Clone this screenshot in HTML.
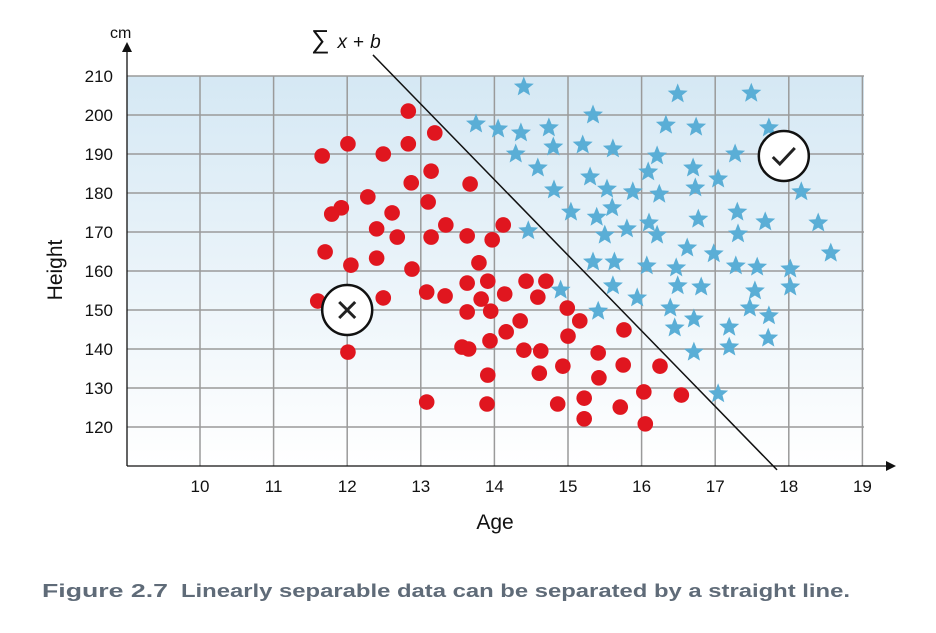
<!DOCTYPE html>
<html><head><meta charset="utf-8"><style>
html,body{margin:0;padding:0;background:#fff;}
svg text{font-family:"Liberation Sans",sans-serif;}
</style></head><body>
<svg id="chart" width="936" height="628" viewBox="0 0 936 628" xmlns="http://www.w3.org/2000/svg">
<defs>
<linearGradient id="bg" x1="0" y1="0" x2="0" y2="1">
<stop offset="0" stop-color="#d5e8f4"/><stop offset="1" stop-color="#ffffff"/>
</linearGradient>
</defs>
<rect x="127" y="76" width="737" height="390" fill="url(#bg)"/>
<g id="grid"></g>
<g id="marks"></g>
<g id="axes">
<line x1="127" y1="466" x2="127" y2="50" stroke="#111" stroke-width="1.3"/>
<polygon points="122,52 132,52 127,42" fill="#111"/>
<line x1="127" y1="466" x2="888" y2="466" stroke="#111" stroke-width="1.3"/>
<polygon points="886,461 886,471 896,466" fill="#111"/>
</g>
<text x="110" y="38" font-size="16" fill="#111">cm</text>
<text transform="translate(62,270) rotate(-90)" text-anchor="middle" font-size="21" fill="#111">Height</text>
<text x="495" y="529" text-anchor="middle" font-size="21" fill="#111">Age</text>
<text x="311" y="48" font-size="19" fill="#111"><tspan font-size="26">∑</tspan><tspan dx="8" font-style="italic">x</tspan><tspan dx="6">+</tspan><tspan dx="6" font-style="italic">b</tspan></text>
<text x="42" y="597" font-size="18" font-weight="bold" fill="#5f6b78" textLength="126" lengthAdjust="spacingAndGlyphs">Figure 2.7</text>
<text x="181" y="597" font-size="18" font-weight="bold" fill="#5f6b78" textLength="669" lengthAdjust="spacingAndGlyphs">Linearly separable data can be separated by a straight line.</text>
</svg>
<script>
const xTicks=[10,11,12,13,14,15,16,17,18,19];
const yTicks=[120,130,140,150,160,170,180,190,200,210];
const redAge=[12.83,13.19,12.01,12.83,11.66,12.49,13.14,12.87,13.67,12.28,13.10,11.92,11.79,12.61,12.40,12.68,13.34,13.14,13.63,13.97,14.12,11.70,12.05,12.40,12.88,13.79,13.63,13.91,14.43,14.70,13.08,13.33,13.82,14.14,14.59,11.60,12.49,13.63,13.95,14.35,14.99,15.16,14.16,15.00,15.76,12.01,13.56,13.65,13.94,14.40,14.63,15.41,14.93,15.75,16.25,14.61,13.91,15.42,13.08,13.90,14.86,15.22,15.22,15.71,16.03,16.05,16.54];
const redHeight=[201.0,195.4,192.6,192.6,189.5,190.0,185.6,182.6,182.3,179.0,177.7,176.2,174.6,174.9,170.8,168.7,171.8,168.7,169.0,168.0,171.8,164.9,161.5,163.3,160.5,162.1,156.9,157.4,157.4,157.4,154.6,153.6,152.8,154.1,153.3,152.3,153.1,149.5,149.7,147.2,150.5,147.2,144.4,143.3,144.9,139.2,140.5,140.0,142.1,139.7,139.5,139.0,135.6,135.9,135.6,133.8,133.3,132.6,126.4,125.9,125.9,127.4,122.1,125.1,129.0,120.8,128.2];
const starAge=[14.40,16.49,17.49,15.34,13.75,14.05,14.36,14.74,16.33,16.74,17.73,14.29,14.80,15.20,15.61,16.21,17.27,14.59,15.30,16.09,16.70,17.04,14.81,15.53,15.88,16.24,16.73,18.17,15.04,15.39,15.60,16.10,16.77,17.30,17.68,18.40,14.46,15.50,15.80,16.21,17.31,16.62,16.98,18.57,15.34,15.63,16.07,16.47,17.28,17.57,18.02,14.90,15.61,16.49,16.81,17.54,18.02,15.94,16.39,17.47,15.41,17.73,16.45,16.71,17.19,17.72,17.19,16.71,17.04];
const starHeight=[207.2,205.4,205.6,200.0,197.7,196.4,195.4,196.7,197.4,196.9,196.7,190.0,191.8,192.3,191.3,189.5,190.0,186.4,184.1,185.4,186.4,183.6,180.8,181.0,180.3,179.7,181.3,180.3,175.1,173.8,176.2,172.3,173.3,175.1,172.6,172.3,170.3,169.2,170.8,169.2,169.5,165.9,164.4,164.6,162.3,162.3,161.3,160.8,161.3,161.0,160.5,155.1,156.2,156.2,155.9,154.9,155.9,153.1,150.5,150.5,149.7,148.5,145.4,147.7,145.6,142.8,140.5,139.2,128.5];
const lineAge=[12.35,17.84];
const lineHeight=[215.4,109.0];
const markerRed=[12.0,150];
const markerStar=[18.0,190];

const NS="http://www.w3.org/2000/svg";
function X(a){return 200+(a-10)*73.6;}
function Y(h){return 76+(210-h)*3.9;}
function mk(tag,attrs,parent){const e=document.createElementNS(NS,tag);for(const k in attrs)e.setAttribute(k,attrs[k]);parent.appendChild(e);return e;}
const grid=document.getElementById('grid'), marks=document.getElementById('marks'), svg=document.getElementById('chart');
xTicks.forEach(t=>{
  const l=mk('line',{x1:X(t),x2:X(t),y1:76,y2:466,stroke:'#9a9a9a','stroke-width':1.5},grid);
  
  
  const tx=mk('text',{x:X(t),y:492,'text-anchor':'middle','font-size':17,fill:'#111'},svg);
  tx.textContent=t;
  
  
});
yTicks.forEach(t=>{
  const l=mk('line',{x1:127,x2:864,y1:Y(t),y2:Y(t),stroke:'#9a9a9a','stroke-width':1.5},grid);
  
  
  const tx=mk('text',{x:113,y:Y(t)+6,'text-anchor':'end','font-size':17,fill:'#111'},svg);
  tx.textContent=t;
  
  
});
const bl=mk('line',{x1:X(lineAge[0]),y1:Y(lineHeight[0]),x2:X(lineAge[1]),y2:Y(lineHeight[1]),stroke:'#111','stroke-width':1.5},marks);


redAge.forEach((a,i)=>{
  const c=mk('circle',{cx:X(a),cy:Y(redHeight[i]),r:7.8,fill:'#e0161f'},marks);
  
  
});
function starPts(cx,cy,R,r){let p=[];for(let k=0;k<10;k++){const ang=-Math.PI/2+k*Math.PI/5;const rr=k%2?r:R;p.push((cx+rr*Math.cos(ang)).toFixed(1)+','+(cy+rr*Math.sin(ang)).toFixed(1));}return p.join(' ');}
starAge.forEach((a,i)=>{
  const s=mk('polygon',{points:starPts(X(a),Y(starHeight[i]),10.5,4.6),fill:'#5aaed6'},marks);
  
  
});
const cx1=X(markerRed[0]),cy1=Y(markerRed[1]);
const g1=mk('g',{},marks);


mk('circle',{cx:cx1,cy:cy1,r:25,fill:'#fff',stroke:'#111','stroke-width':2.5},g1);
mk('path',{d:`M${cx1-8} ${cy1-8}L${cx1+8} ${cy1+8}M${cx1+8} ${cy1-8}L${cx1-8} ${cy1+8}`,stroke:'#222','stroke-width':3},g1);
const cx2=X(markerStar[0])-5,cy2=Y(markerStar[1])+2;
const g2=mk('g',{},marks);


mk('circle',{cx:cx2,cy:cy2,r:25,fill:'#fff',stroke:'#111','stroke-width':2.5},g2);
mk('path',{d:`M${cx2-11} ${cy2+1}L${cx2-4} ${cy2+8}L${cx2+11} ${cy2-8}`,stroke:'#222','stroke-width':3,fill:'none'},g2);
</script>
</body></html>
